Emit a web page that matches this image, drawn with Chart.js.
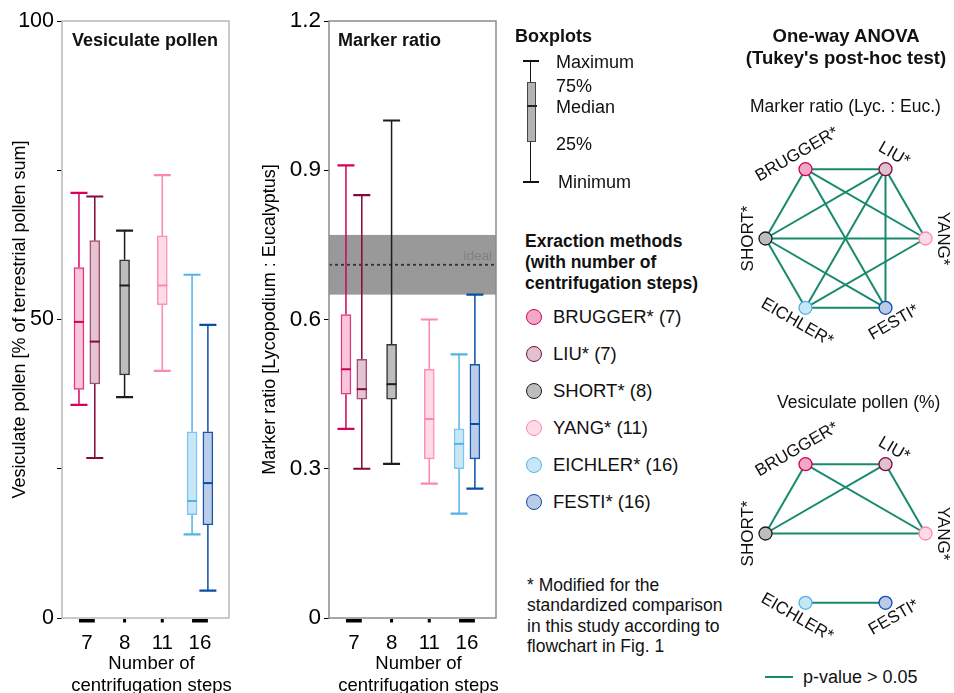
<!DOCTYPE html>
<html>
<head>
<meta charset="utf-8">
<script src="https://cdn.jsdelivr.net/npm/chart.js@4.4.1/dist/chart.umd.min.js"></script>
<style>
  body { margin: 0; background: #fff; font-family: 'Liberation Sans', Arial, Helvetica, sans-serif; color: #111; }
  #page { position: relative; width: 954px; height: 693px; overflow: hidden; }
  .abs { position: absolute; white-space: nowrap; }
  canvas { position: absolute; }
  .b { font-weight: bold; }
</style>
</head>
<body>
<div id="page">
  <canvas id="vesChart" width="250" height="693" style="left:0;top:0"></canvas>
  <canvas id="ratioChart" width="260" height="693" style="left:250px;top:0"></canvas>
  <canvas id="ratioNet" width="224" height="240" style="left:730px;top:112px"></canvas>
  <canvas id="vesNet" width="224" height="240" style="left:730px;top:410px"></canvas>

  <div class="abs b" style="left:72px;top:29px;font-size:18px;line-height:22px">Vesiculate pollen</div>
  <div class="abs b" style="left:338px;top:29px;font-size:18px;line-height:22px">Marker ratio</div>

  <!-- boxplot key -->
  <div class="abs b" style="left:515px;top:25px;font-size:18px;line-height:22px">Boxplots</div>
  <div class="abs" style="left:523px;top:60px;width:16px;height:2px;background:#111"></div>
  <div class="abs" style="left:530px;top:61px;width:1.3px;height:121px;background:#111"></div>
  <div class="abs" style="left:523px;top:181px;width:16px;height:2px;background:#111"></div>
  <div class="abs" style="left:527px;top:82px;width:7px;height:58px;background:#b3b3b3;border:1.5px solid #444"></div>
  <div class="abs" style="left:527px;top:105px;width:10px;height:2px;background:#222"></div>
  <div class="abs" style="left:556px;top:51px;font-size:18px;line-height:22px">Maximum</div>
  <div class="abs" style="left:556px;top:75px;font-size:18px;line-height:22px">75%</div>
  <div class="abs" style="left:556px;top:96px;font-size:18px;line-height:22px">Median</div>
  <div class="abs" style="left:556px;top:133px;font-size:18px;line-height:22px">25%</div>
  <div class="abs" style="left:558px;top:171px;font-size:18px;line-height:22px">Minimum</div>

  <div class="abs b" style="left:525px;top:231px;font-size:17.5px;line-height:21px">Exraction methods<br>(with number of<br>centrifugation steps)</div>
  <div id="methodKey"></div>
  <div class="abs" style="left:527px;top:575px;font-size:17.5px;line-height:20.3px">* Modified for the<br>standardized comparison<br>in this study according to<br>flowchart in Fig. 1</div>

  <!-- ANOVA panel -->
  <div class="abs b" style="left:730px;top:25px;width:232px;text-align:center;font-size:18.5px;line-height:22px">One-way ANOVA<br>(Tukey's post-hoc test)</div>
  <div class="abs" style="left:750px;top:95px;font-size:17.5px;line-height:22px">Marker ratio (Lyc. : Euc.)</div>
  <div class="abs" style="left:777px;top:391px;font-size:17.5px;line-height:22px">Vesiculate pollen (%)</div>
  <div class="abs" style="left:765px;top:676px;width:28px;height:2px;background:#178a6c"></div>
  <div class="abs" style="left:803px;top:666px;font-size:18px;line-height:22px">p-value &gt; 0.05</div>
</div>

<script>
// categories and methods
var categories = ['7', '8', '11', '16'];
var methods = ['BRUGGER*', 'LIU*', 'SHORT*', 'YANG*', 'EICHLER*', 'FESTI*'];
var methodSteps = ['7', '7', '8', '11', '16', '16'];
var xTitleLines = ['Number of', 'centrifugation steps'];

// vesiculate pollen (% of terrestrial pollen sum)
var vesMin = [35.7, 26.8, 37.0, 41.4, 14.0, 4.6];
var vesQ1 = [38.3, 39.2, 40.7, 52.5, 17.3, 15.6];
var vesMedian = [49.6, 46.3, 55.7, 55.7, 19.6, 22.6];
var vesQ3 = [58.7, 63.2, 60.0, 64.0, 31.2, 31.2];
var vesMax = [71.2, 70.6, 64.9, 74.2, 57.5, 49.1];
var vesTicks = [0, 25, 50, 75, 100];
var vesTickLabels = ['0', '', '50', '', '100'];

// marker ratio (Lycopodium : Eucalyptus)
var ratioMin = [0.38, 0.30, 0.31, 0.27, 0.21, 0.26];
var ratioQ1 = [0.45, 0.44, 0.44, 0.32, 0.30, 0.32];
var ratioMedian = [0.50, 0.46, 0.47, 0.40, 0.35, 0.39];
var ratioQ3 = [0.61, 0.52, 0.55, 0.50, 0.38, 0.51];
var ratioMax = [0.91, 0.85, 1.00, 0.60, 0.53, 0.65];
var ratioTicks = [0, 0.3, 0.6, 0.9, 1.2];
var ratioTickLabels = ['0', '0.3', '0.6', '0.9', '1.2'];
var idealBand = [0.65, 0.77];
var idealRatio = 0.71;

// Tukey pairs with p-value > 0.05
var ratioPairs = [
    ['BRUGGER*', 'LIU*'], ['BRUGGER*', 'SHORT*'], ['BRUGGER*', 'YANG*'], ['BRUGGER*', 'FESTI*'],
    ['LIU*', 'SHORT*'], ['LIU*', 'YANG*'], ['LIU*', 'EICHLER*'], ['LIU*', 'FESTI*'],
    ['SHORT*', 'YANG*'], ['SHORT*', 'EICHLER*'], ['SHORT*', 'FESTI*'],
    ['YANG*', 'EICHLER*'], ['EICHLER*', 'FESTI*']
];
var vesPairs = [
    ['BRUGGER*', 'LIU*'], ['BRUGGER*', 'SHORT*'], ['BRUGGER*', 'YANG*'],
    ['LIU*', 'SHORT*'], ['LIU*', 'YANG*'], ['SHORT*', 'YANG*'],
    ['EICHLER*', 'FESTI*']
];
var ringOrder = ['BRUGGER*', 'LIU*', 'YANG*', 'FESTI*', 'EICHLER*', 'SHORT*'];

// colours
var strokeColors = ['#d6005c', '#830a3c', '#1c1c1c', '#ff86b4', '#52b3e6', '#0b4ea8'];
var boxBorders = ['#e2367f', '#a24f73', '#333333', '#ff8fba', '#7cc5ee', '#1b55ad'];
var fillColors = ['#f7c6da', '#e5c4d1', '#bdbdbd', '#ffdbe9', '#c9e6f6', '#bccde9'];
var dotColors = ['#f2a9c7', '#e0c1cf', '#bdbdbd', '#ffdbe8', '#c7e6f6', '#b9cbe8'];
var edgeColor = '#178a6c';
var font = "'Liberation Sans', Arial, sans-serif";

// x position of a method: its category index, pairs spread around it
function methodX(i) {
    var group = categories.indexOf(methodSteps[i]);
    var members = [];
    methodSteps.forEach(function(s, j) { if (s === methodSteps[i]) { members.push(j); } });
    var k = members.indexOf(i);
    return group + (k - (members.length - 1) / 2) * 0.42;
}

/**
 * Whiskers, medians, frame, x title and the marks under the x axis
 */
function boxplotPlugin(stats, frameColor, band) {
    return {
        id: 'boxplot',
        beforeDatasetsDraw: function(chart) {
            var ctx = chart.ctx, x = chart.scales.x, y = chart.scales.y, area = chart.chartArea;
            ctx.save();
            if (band) {
                var top = y.getPixelForValue(band.range[1]);
                var bottom = y.getPixelForValue(band.range[0]);
                ctx.fillStyle = '#999999';
                ctx.fillRect(area.left, top, area.right - area.left, bottom - top);
                var ly = y.getPixelForValue(band.line);
                ctx.strokeStyle = '#333';
                ctx.lineWidth = 1.8;
                ctx.setLineDash([3, 3]);
                ctx.beginPath();
                ctx.moveTo(area.left, ly);
                ctx.lineTo(area.right, ly);
                ctx.stroke();
                ctx.setLineDash([]);
                ctx.fillStyle = '#808080';
                ctx.font = '13.5px ' + font;
                ctx.textAlign = 'right';
                ctx.textBaseline = 'middle';
                ctx.fillText('ideal', area.right - 4, ly - 8);
            }
            methods.forEach(function(m, i) {
                var px = x.getPixelForValue(methodX(i));
                ctx.strokeStyle = strokeColors[i];
                ctx.lineWidth = 1.5;
                ctx.beginPath();
                ctx.moveTo(px, y.getPixelForValue(stats.min[i]));
                ctx.lineTo(px, y.getPixelForValue(stats.q1[i]));
                ctx.moveTo(px, y.getPixelForValue(stats.q3[i]));
                ctx.lineTo(px, y.getPixelForValue(stats.max[i]));
                ctx.stroke();
                ctx.lineWidth = 2.2;
                ctx.beginPath();
                [stats.min[i], stats.max[i]].forEach(function(v) {
                    var py = y.getPixelForValue(v);
                    ctx.moveTo(px - 8.5, py);
                    ctx.lineTo(px + 8.5, py);
                });
                ctx.stroke();
            });
            ctx.restore();
        },
        afterDatasetsDraw: function(chart) {
            var ctx = chart.ctx, x = chart.scales.x, y = chart.scales.y, area = chart.chartArea;
            ctx.save();
            methods.forEach(function(m, i) {
                var px = x.getPixelForValue(methodX(i));
                var py = y.getPixelForValue(stats.median[i]);
                ctx.strokeStyle = strokeColors[i];
                ctx.lineWidth = 2;
                ctx.beginPath();
                ctx.moveTo(px - 5, py);
                ctx.lineTo(px + 5, py);
                ctx.stroke();
            });
            ctx.strokeStyle = frameColor;
            ctx.lineWidth = 1.5;
            ctx.strokeRect(area.left, area.top, area.right - area.left, area.bottom - area.top);
            // black marks under each step count
            ctx.fillStyle = '#000';
            categories.forEach(function(c) {
                var xs = [];
                methods.forEach(function(m, i) {
                    if (methodSteps[i] === c) { xs.push(x.getPixelForValue(methodX(i))); }
                });
                var half = xs.length > 1 ? 0 : 1.5;
                var x0 = Math.min.apply(null, xs) - half;
                var x1 = Math.max.apply(null, xs) + half;
                ctx.fillRect(x0, area.bottom + 1, x1 - x0, 3.5);
            });
            // x axis title, sitting a little right of the plot centre
            ctx.fillStyle = '#000';
            ctx.font = '18.5px ' + font;
            ctx.textAlign = 'center';
            ctx.textBaseline = 'middle';
            var cx = (area.left + area.right) / 2 + 6;
            xTitleLines.forEach(function(line, k) {
                ctx.fillText(line, cx, area.bottom + 46 + k * 22);
            });
            ctx.restore();
        }
    };
}

function boxChart(canvasId, stats, ticks, tickLabels, yTitle, axisWidth, padRight, tickSize, frameColor, band) {
    var ctx = document.getElementById(canvasId).getContext('2d');
    return new Chart(ctx, {
        type: 'bar',
        data: {
            datasets: [{
                data: methods.map(function(m, i) {
                    return { x: methodX(i), y: [stats.q1[i], stats.q3[i]] };
                }),
                backgroundColor: fillColors,
                borderColor: boxBorders,
                borderWidth: 1.5,
                borderSkipped: false,
                barThickness: 10
            }]
        },
        options: {
            responsive: false,
            animation: false,
            layout: { padding: { top: 21, right: padRight, bottom: 0, left: 0 } },
            plugins: { legend: { display: false }, tooltip: { enabled: false } },
            scales: {
                x: {
                    type: 'linear',
                    min: -0.66,
                    max: 3.77,
                    offset: false,
                    afterBuildTicks: function(scale) {
                        scale.ticks = categories.map(function(c, i) { return { value: i }; });
                    },
                    afterFit: function(scale) { scale.height = 75; },
                    ticks: {
                        autoSkip: false,
                        maxRotation: 0,
                        padding: 5,
                        color: '#000',
                        font: { family: font, size: 20.5 },
                        callback: function(value, index) { return categories[index]; }
                    },
                    grid: { display: false, offset: false },
                    border: { display: false },
                    title: { display: false }
                },
                y: {
                    min: ticks[0],
                    max: ticks[ticks.length - 1],
                    afterBuildTicks: function(scale) {
                        scale.ticks = ticks.map(function(v) { return { value: v }; });
                    },
                    afterFit: function(scale) { scale.width = axisWidth; },
                    ticks: {
                        padding: 3,
                        color: '#000',
                        font: { family: font, size: tickSize },
                        callback: function(value, index) { return tickLabels[index]; }
                    },
                    grid: { drawOnChartArea: false, drawTicks: true, tickLength: 5, color: '#000', lineWidth: 1 },
                    border: { display: false },
                    title: {
                        display: true,
                        text: yTitle,
                        color: '#000',
                        font: { family: font, size: 18 },
                        padding: { top: 9, bottom: 0 }
                    }
                }
            }
        },
        plugins: [boxplotPlugin(stats, frameColor, band)]
    });
}

boxChart('vesChart',
    { min: vesMin, q1: vesQ1, median: vesMedian, q3: vesQ3, max: vesMax },
    vesTicks, vesTickLabels, 'Vesiculate pollen [% of terrestrial pollen sum]', 62, 21, 21.5, '#b8b8b8', null);

boxChart('ratioChart',
    { min: ratioMin, q1: ratioQ1, median: ratioMedian, q3: ratioQ3, max: ratioMax },
    ratioTicks, ratioTickLabels, 'Marker ratio [Lycopodium : Eucalyptus]', 79, 14, 22.5, '#8a8a8a',
    { range: idealBand, line: idealRatio });

// method key
(function() {
    var key = document.getElementById('methodKey');
    methods.forEach(function(m, i) {
        var cy = 317 + i * 37;
        var dot = document.createElement('div');
        dot.className = 'abs';
        dot.style.cssText = 'left:526px;top:' + (cy - 8.5) + 'px;width:14px;height:14px;border-radius:50%;' +
            'background:' + dotColors[i] + ';border:1.5px solid ' + strokeColors[i];
        key.appendChild(dot);
        var label = document.createElement('div');
        label.className = 'abs';
        label.style.cssText = 'left:553px;top:' + (cy - 11) + 'px;font-size:18.5px;line-height:22px';
        label.textContent = m + ' (' + methodSteps[i] + ')';
        key.appendChild(label);
    });
})();

/**
 * Hexagon network of pairs without a significant difference
 */
function networkChart(canvasId, pairs, centerX, centerY, radius) {
    var canvas = document.getElementById(canvasId);
    var w = canvas.width, h = canvas.height;
    var nodePos = {};
    ringOrder.forEach(function(m, k) {
        var deg = 120 - 60 * k;
        if (deg <= -180) { deg += 360; }
        var a = deg * Math.PI / 180;
        nodePos[m] = { x: Math.cos(a), y: Math.sin(a), angle: deg };
    });
    var datasets = [{
        data: ringOrder.map(function(m) { return { x: nodePos[m].x, y: nodePos[m].y }; }),
        pointRadius: 6.5,
        pointBorderWidth: 1.3,
        pointBackgroundColor: ringOrder.map(function(m) { return dotColors[methods.indexOf(m)]; }),
        pointBorderColor: ringOrder.map(function(m) { return strokeColors[methods.indexOf(m)]; }),
        order: 0
    }];
    pairs.forEach(function(p) {
        datasets.push({
            data: [{ x: nodePos[p[0]].x, y: nodePos[p[0]].y }, { x: nodePos[p[1]].x, y: nodePos[p[1]].y }],
            showLine: true,
            borderColor: edgeColor,
            borderWidth: 2,
            pointRadius: 0,
            order: 1
        });
    });
    var labelPlugin = {
        id: 'nodeLabels',
        afterDatasetsDraw: function(chart) {
            var ctx = chart.ctx, sx = chart.scales.x, sy = chart.scales.y;
            ctx.save();
            ctx.fillStyle = '#111';
            ctx.font = '17px ' + font;
            ctx.textAlign = 'center';
            ctx.textBaseline = 'middle';
            ringOrder.forEach(function(m) {
                var n = nodePos[m];
                var a = n.angle * Math.PI / 180;
                var px = sx.getPixelForValue(n.x) + 17 * Math.cos(a);
                var py = sy.getPixelForValue(n.y) - 17 * Math.sin(a);
                var rot = n.angle >= 0 ? 90 - n.angle : -90 - n.angle;
                ctx.save();
                ctx.translate(px, py);
                ctx.rotate(rot * Math.PI / 180);
                ctx.fillText(m, 0, 0);
                ctx.restore();
            });
            ctx.restore();
        }
    };
    return new Chart(canvas.getContext('2d'), {
        type: 'scatter',
        data: { datasets: datasets },
        options: {
            responsive: false,
            animation: false,
            layout: { padding: 0, autoPadding: false },
            plugins: { legend: { display: false }, tooltip: { enabled: false } },
            scales: {
                x: { display: false, min: -centerX / radius, max: (w - centerX) / radius },
                y: { display: false, min: -(h - centerY) / radius, max: centerY / radius }
            }
        },
        plugins: [labelPlugin]
    });
}

networkChart('ratioNet', ratioPairs, 115.5, 126.5, 80);
networkChart('vesNet', vesPairs, 115.5, 123.5, 80);
</script>
</body>
</html>
